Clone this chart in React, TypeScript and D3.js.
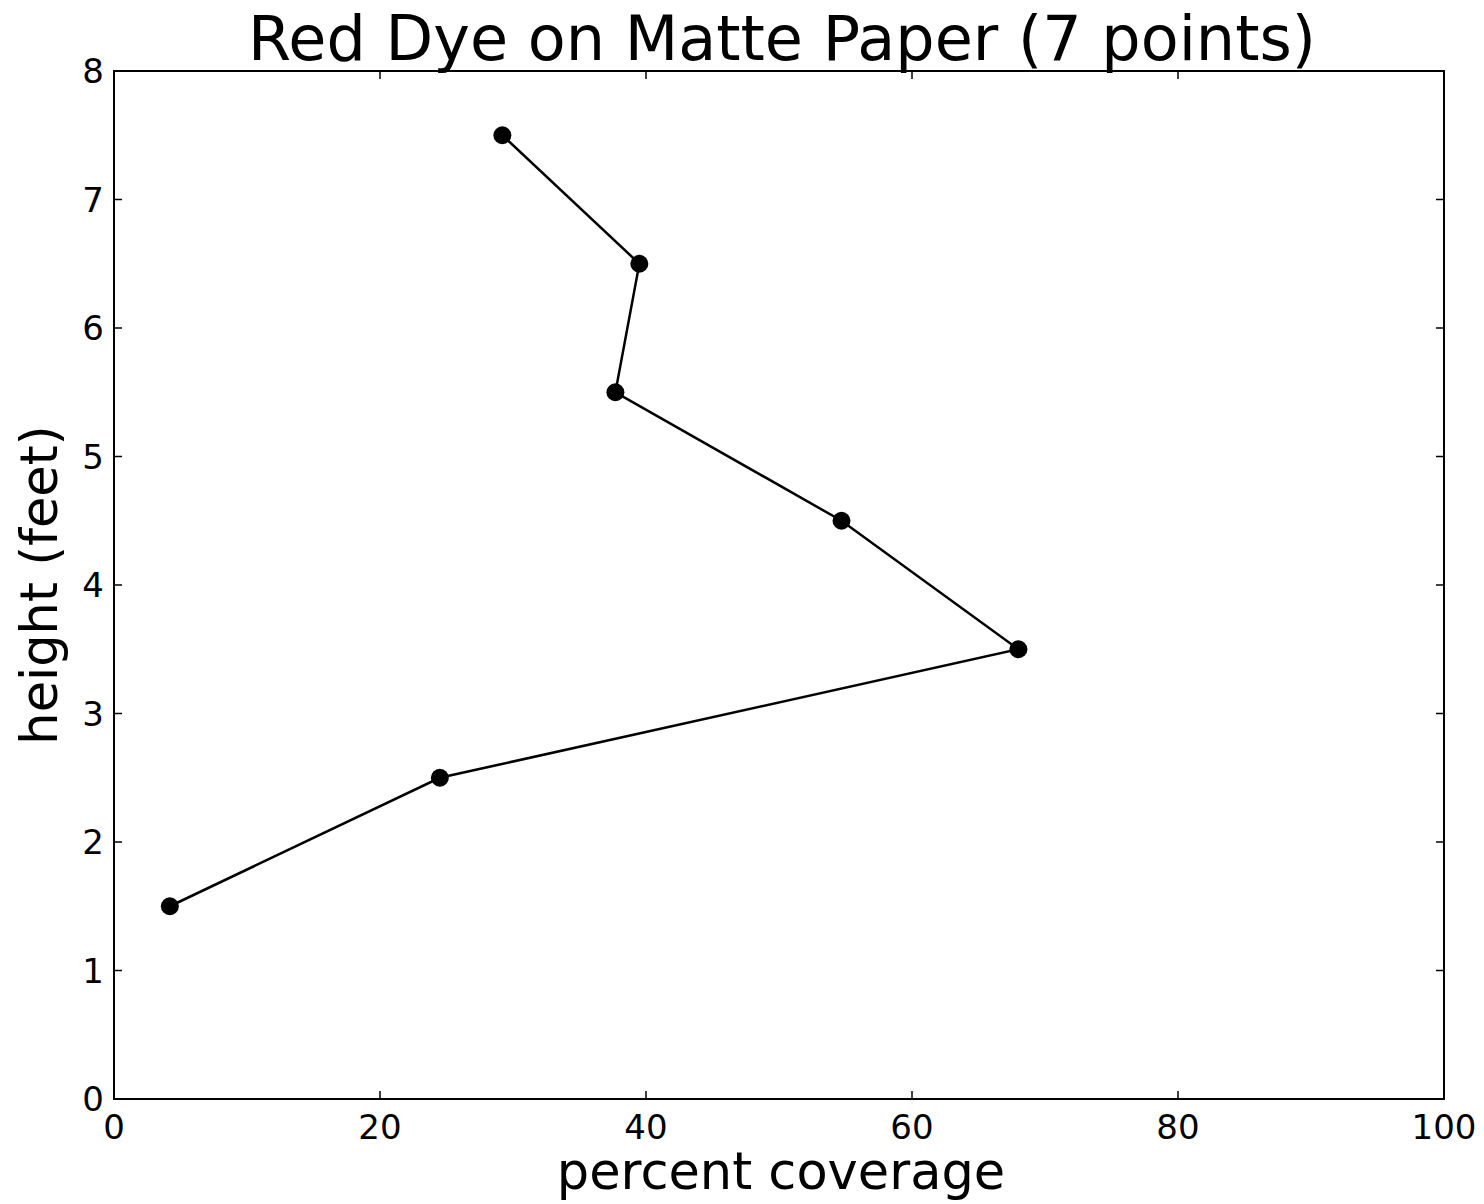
import React from "react";
import * as d3 from "d3";

const coverage = [4.2, 24.5, 68.0, 54.7, 37.7, 39.5, 29.2];
const heights = [1.5, 2.5, 3.5, 4.5, 5.5, 6.5, 7.5];
const xTicks = [0, 20, 40, 60, 80, 100];
const yTicks = [0, 1, 2, 3, 4, 5, 6, 7, 8];
const title = "Red Dye on Matte Paper (7 points)";
const xLabel = "percent coverage";
const yLabel = "height (feet)";

export default function App() {
  const W = 1484, H = 1204;
  const L = 114, R = 1444, T = 71, B = 1099;
  const x = d3.scaleLinear().domain([0, 100]).range([L, R]);
  const y = d3.scaleLinear().domain([0, 8]).range([B, T]);
  const pts = coverage.map((c, i) => [c, heights[i]] as [number, number]);
  const line = d3.line<[number, number]>().x(d => x(d[0])).y(d => y(d[1]));
  const font = "DejaVu Sans";
  const tl = 8;
  return (
    <svg width={W} height={H} style={{ position: "absolute", left: 0, top: 0 }} fontFamily={font}>
      <rect width={W} height={H} fill="white" />
      <text x={(L + R) / 2 + 3} y={60} fontSize={62} textAnchor="middle">{title}</text>
      {xTicks.map(t => (
        <g key={"x" + t}>
          <line x1={x(t)} x2={x(t)} y1={B} y2={B - tl} stroke="black" strokeWidth={1.5} />
          <line x1={x(t)} x2={x(t)} y1={T} y2={T + tl} stroke="black" strokeWidth={1.5} />
          <text x={x(t)} y={1139} fontSize={34} textAnchor="middle">{t}</text>
        </g>
      ))}
      {yTicks.map(t => (
        <g key={"y" + t}>
          <line x1={L} x2={L + tl} y1={y(t)} y2={y(t)} stroke="black" strokeWidth={1.5} />
          <line x1={R} x2={R - tl} y1={y(t)} y2={y(t)} stroke="black" strokeWidth={1.5} />
          <text x={104} y={y(t)} dy="0.36em" fontSize={34} textAnchor="end">{t}</text>
        </g>
      ))}
      <text x={(L + R) / 2 + 2} y={1189} fontSize={51} textAnchor="middle">{xLabel}</text>
      <text transform={`translate(57,${(T + B) / 2}) rotate(-90)`} fontSize={51} textAnchor="middle">{yLabel}</text>
      <path d={line(pts) || ""} fill="none" stroke="black" strokeWidth={2.5} />
      {pts.map((p, i) => (
        <circle key={i} cx={x(p[0])} cy={y(p[1])} r={9} fill="black" />
      ))}
      <rect x={L} y={T} width={R - L} height={B - T} fill="none" stroke="black" strokeWidth={2} />
    </svg>
  );
}
